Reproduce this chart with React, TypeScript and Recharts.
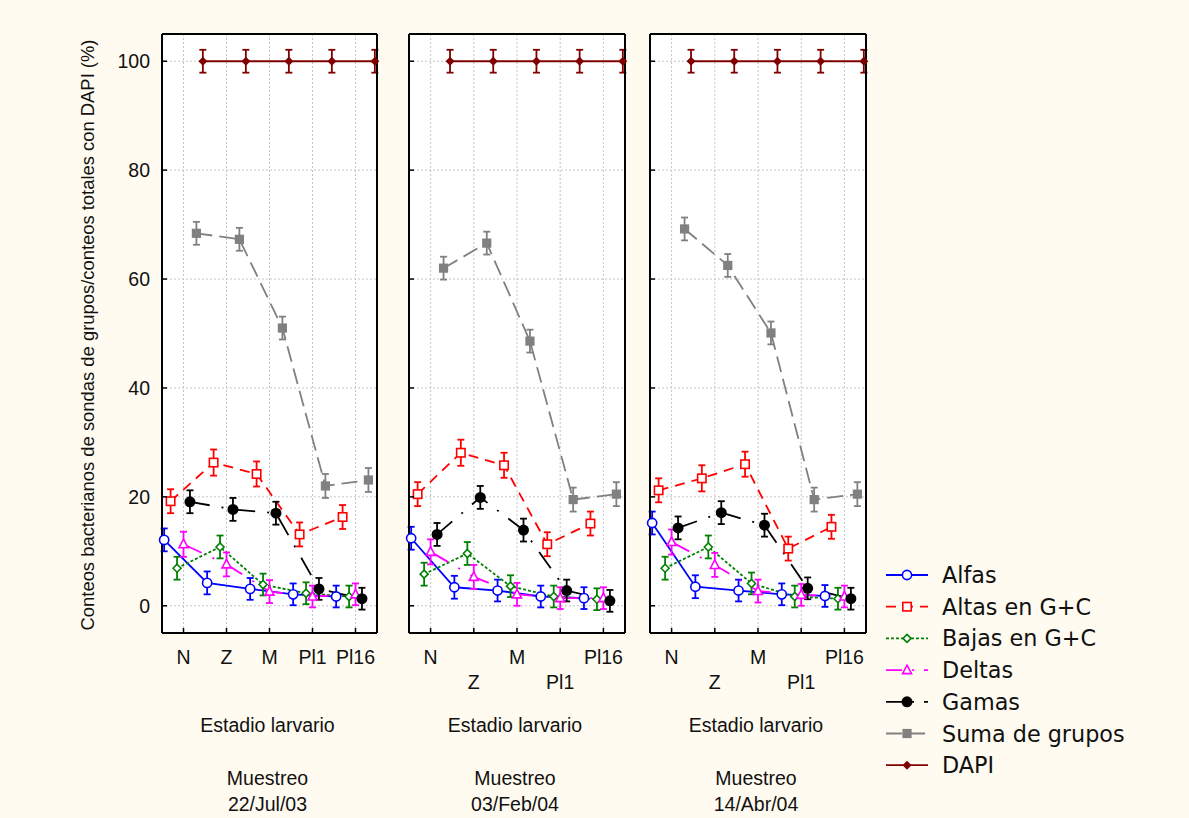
import React from "react";
import { CartesianGrid, ErrorBar, Label, Line, LineChart, XAxis, YAxis } from "recharts";

const stages = ["N", "Z", "M", "Pl1", "Pl16"];
const stageTicks = [1, 2, 3, 4, 5];
const yTicks = [0, 20, 40, 60, 80, 100];
const rightTicks = [1, 2, 3, 4, 5, 6];

// Muestreo 22/Jul/03
const alfasJul = [12.1, 4.2, 3.1, 2.1, 1.7];
const altasJul = [19.2, 26.3, 24.2, 13.1, 16.3];
const bajasJul = [6.9, 10.8, 3.9, 2.3, 1.7];
const deltasJul = [11.3, 7.6, 2.6, 1.7, 2.1];
const gamasJul = [19.1, 17.7, 17.0, 3.1, 1.3];
const sumaJul = [68.4, 67.3, 51.0, 22.0, 23.1];
const dapiJul = [100, 100, 100, 100, 100];

// Muestreo 03/Feb/04
const alfasFeb = [12.4, 3.4, 2.8, 1.7, 1.4];
const altasFeb = [20.5, 28.1, 25.8, 11.3, 15.1];
const bajasFeb = [5.8, 9.6, 3.6, 1.7, 1.2];
const deltasFeb = [9.9, 5.3, 2.1, 1.4, 1.4];
const gamasFeb = [13.1, 19.9, 13.9, 2.8, 0.9];
const sumaFeb = [62.0, 66.6, 48.6, 19.5, 20.5];
const dapiFeb = [100, 100, 100, 100, 100];

// Muestreo 14/Abr/04
const alfasAbr = [15.2, 3.5, 2.8, 2.1, 1.8];
const altasAbr = [21.2, 23.4, 26.0, 10.5, 14.5];
const bajasAbr = [6.9, 10.8, 4.1, 1.7, 1.3];
const deltasAbr = [11.7, 7.5, 2.7, 2.0, 1.7];
const gamasAbr = [14.3, 17.1, 14.8, 3.2, 1.3];
const sumaAbr = [69.2, 62.5, 50.1, 19.5, 20.5];
const dapiAbr = [100, 100, 100, 100, 100];

// error bars (+/- %)
const errAlfas = [2.1, 2.1, 2.0, 2.0, 2.0];
const errAltas = [2.2, 2.4, 2.3, 2.2, 2.2];
const errBajas = [2.1, 2.1, 2.0, 2.0, 2.0];
const errDeltas = [2.3, 2.2, 2.1, 2.0, 2.0];
const errGamas = [2.1, 2.1, 2.1, 2.0, 2.0];
const errSuma = [2.1, 2.1, 2.1, 2.2, 2.2];
const errDapi = [2.1, 2.1, 2.1, 2.1, 2.1];

const groups = [
  { name: "Alfas", color: "#0000ff", dash: undefined, shape: "circle", err: errAlfas },
  { name: "Altas en G+C", color: "#ff0000", dash: "10 7", shape: "square", err: errAltas },
  { name: "Bajas en G+C", color: "#008000", dash: "3 2", shape: "diamond", err: errBajas },
  { name: "Deltas", color: "#ff00ff", dash: "20 12 2 12", shape: "triangle", err: errDeltas },
  { name: "Gamas", color: "#000000", dash: "20 12 2 12", shape: "dot", err: errGamas },
  { name: "Suma de grupos", color: "#808080", dash: "16 7", shape: "fsquare", err: errSuma },
  { name: "DAPI", color: "#800000", dash: undefined, shape: "fdiamond", err: errDapi },
];

const panels = [
  { date: "22/Jul/03", series: [alfasJul, altasJul, bajasJul, deltasJul, gamasJul, sumaJul, dapiJul], left: 0, width: 390, axisW: 162, right: 13, twoRows: false, yLabel: true },
  { date: "03/Feb/04", series: [alfasFeb, altasFeb, bajasFeb, deltasFeb, gamasFeb, sumaFeb, dapiFeb], left: 390, width: 250, axisW: 19, right: 15, twoRows: true, yLabel: false },
  { date: "14/Abr/04", series: [alfasAbr, altasAbr, bajasAbr, deltasAbr, gamasAbr, sumaAbr, dapiAbr], left: 640, width: 240, axisW: 10, right: 14, twoRows: true, yLabel: false },
];

const FONT = "'Liberation Sans', Arial, sans-serif";
const DODGE = 0.15;

function Marker({ cx, cy, shape, color }: { cx: number; cy: number; shape: string; color: string }) {
  const sw = 1.6;
  switch (shape) {
    case "circle":
      return <circle cx={cx} cy={cy} r={4.6} fill="#fff" stroke={color} strokeWidth={sw} />;
    case "square":
      return <rect x={cx - 4.2} y={cy - 4.2} width={8.4} height={8.4} fill="#fff" stroke={color} strokeWidth={sw} />;
    case "diamond":
      return <polygon points={`${cx},${cy - 4} ${cx + 4},${cy} ${cx},${cy + 4} ${cx - 4},${cy}`} fill="#fff" stroke={color} strokeWidth={sw} />;
    case "triangle":
      return <polygon points={`${cx},${cy - 5} ${cx + 4.5},${cy + 3.5} ${cx - 4.5},${cy + 3.5}`} fill="#fff" stroke={color} strokeWidth={sw} />;
    case "dot":
      return <circle cx={cx} cy={cy} r={5.5} fill={color} />;
    case "fsquare":
      return <rect x={cx - 4.6} y={cy - 4.6} width={9.2} height={9.2} fill={color} />;
    default:
      return <polygon points={`${cx},${cy - 4.5} ${cx + 4.5},${cy} ${cx},${cy + 4.5} ${cx - 4.5},${cy}`} fill={color} />;
  }
}

function LeftTick(props: any) {
  const { x, y, payload, showLabel } = props;
  return (
    <g>
      <line x1={x} y1={y} x2={x + 5} y2={y} stroke="#000" strokeWidth={1.5} />
      {showLabel && (
        <text x={x - 12} y={y} textAnchor="end" dominantBaseline="central" fontFamily={FONT} fontSize={19.5} fill="#111">
          {payload.value}
        </text>
      )}
    </g>
  );
}

function BottomTick(props: any) {
  const { x, y, payload, twoRows } = props;
  const i = Math.round(payload.value) - 1;
  const row = twoRows && i % 2 === 1 ? 1 : 0;
  return (
    <g>
      <line x1={x} y1={y} x2={x} y2={y - 5} stroke="#000" strokeWidth={1.5} />
      <text x={x} y={y + 24 + row * 25} textAnchor="middle" dominantBaseline="central" fontFamily={FONT} fontSize={19.5} fill="#111">
        {stages[i]}
      </text>
    </g>
  );
}

function Panel({ p }: { p: (typeof panels)[number] }) {
  const cx = p.axisW + (p.width - p.axisW - p.right) / 2 - 2;
  const axisLine = { stroke: "#000", strokeWidth: 2 };
  return (
    <div style={{ position: "absolute", left: p.left, top: 0 }}>
      <LineChart width={p.width} height={818} margin={{ top: 34, right: p.right, bottom: 0, left: 0 }}>
        <CartesianGrid stroke="#c4c4c4" strokeDasharray="2 2" />
        <XAxis
          type="number"
          dataKey="x"
          domain={[0.5, 5.5]}
          ticks={stageTicks}
          interval={0}
          height={185}
          axisLine={axisLine}
          tickLine={false}
          tickSize={0}
          tickMargin={0}
          tick={<BottomTick twoRows={p.twoRows} />}
        >
          <Label
            content={() => (
              <g fontFamily={FONT} fontSize={19.5} fill="#111" textAnchor="middle">
                <text x={cx} y={725} dominantBaseline="central">Estadio larvario</text>
                <text x={cx} y={778} dominantBaseline="central">Muestreo</text>
                <text x={cx} y={804} dominantBaseline="central">{p.date}</text>
              </g>
            )}
          />
        </XAxis>
        <XAxis
          xAxisId="t"
          orientation="top"
          mirror
          type="number"
          domain={[0.5, 5.5]}
          ticks={stageTicks}
          interval={0}
          tick={false}
          tickSize={5}
          axisLine={axisLine}
          tickLine={{ stroke: "#000", strokeWidth: 1.5 }}
        />
        <YAxis
          type="number"
          domain={[-5, 105]}
          ticks={yTicks}
          interval={0}
          width={p.axisW}
          axisLine={axisLine}
          tickLine={false}
          tickSize={0}
          tickMargin={0}
          tick={<LeftTick showLabel={p.yLabel} />}
        >
          {p.yLabel && (
            <Label
              content={() => (
                <text
                  transform="translate(87,335) rotate(-90)"
                  x={0}
                  y={0}
                  textAnchor="middle"
                  dominantBaseline="central"
                  fontFamily={FONT}
                  fontSize={18.4}
                  fill="#111"
                >
                  Conteos bacterianos de sondas de grupos/conteos totales con DAPI (%)
                </text>
              )}
            />
          )}
        </YAxis>
        <YAxis
          yAxisId="r"
          orientation="right"
          mirror
          type="number"
          domain={[0, 7]}
          ticks={rightTicks}
          interval={0}
          tick={false}
          tickSize={5}
          axisLine={axisLine}
          tickLine={{ stroke: "#000", strokeWidth: 1.5 }}
        />
        {groups.map((g, k) => {
          const data = p.series[k].map((v, i) => ({ x: i + 1 + (k - 3) * DODGE, y: v, e: g.err[i] }));
          return (
            <Line
              key={g.name}
              data={data}
              dataKey="y"
              type="linear"
              stroke={g.color}
              strokeWidth={1.8}
              strokeDasharray={g.dash}
              isAnimationActive={false}
              activeDot={false}
              dot={(d: any) => <Marker key={`${g.name}-${d.index}`} cx={d.cx} cy={d.cy} shape={g.shape} color={g.color} />}
            >
              <ErrorBar dataKey="e" width={3.5} stroke={g.color} strokeWidth={1.8} direction="y" />
            </Line>
          );
        })}
      </LineChart>
    </div>
  );
}

function LegendBox() {
  return (
    <svg style={{ position: "absolute", left: 870, top: 550 }} width={300} height={240}>
      {groups.map((g, i) => {
        const y = 25 + i * 31.7;
        return (
          <g key={g.name}>
            <line x1={16} y1={y} x2={58} y2={y} stroke={g.color} strokeWidth={1.8} strokeDasharray={g.dash ? (g.dash.split(" ").length > 2 ? "16 10 2 10" : g.dash) : undefined} />
            <Marker cx={37} cy={y} shape={g.shape} color={g.color} />
            <text x={72} y={y} dominantBaseline="central" fontFamily="'DejaVu Sans', sans-serif" fontSize={22.3} fill="#111">
              {g.name}
            </text>
          </g>
        );
      })}
    </svg>
  );
}

export default function App() {
  return (
    <div style={{ position: "absolute", left: 0, top: 0, width: 1189, height: 818, background: "#fffbf0", overflow: "hidden" }}>
      <div style={{ position: "absolute", left: 162, top: 34, width: 215, height: 599, background: "#fff" }} />
      <div style={{ position: "absolute", left: 409, top: 34, width: 216, height: 599, background: "#fff" }} />
      <div style={{ position: "absolute", left: 650, top: 34, width: 216, height: 599, background: "#fff" }} />
      {panels.map((p) => (
        <Panel key={p.date} p={p} />
      ))}
      <LegendBox />
    </div>
  );
}
